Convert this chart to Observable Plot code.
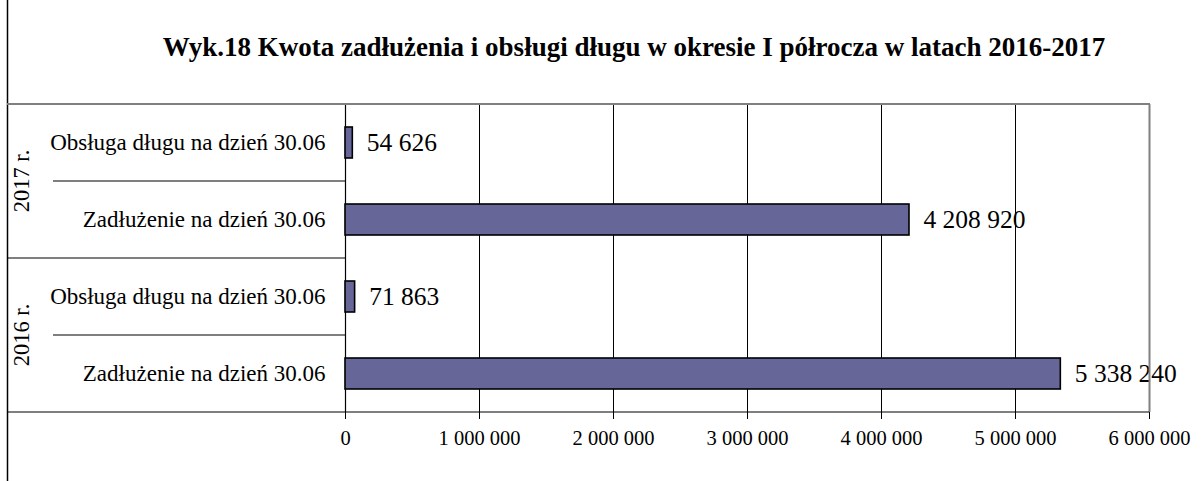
<!DOCTYPE html>
<html>
<head>
<meta charset="utf-8">
<script src="https://cdn.jsdelivr.net/npm/d3@7"></script>
<script src="https://cdn.jsdelivr.net/npm/@observablehq/plot@0.6"></script>
<style>
  html, body { margin: 0; padding: 0; background: #fff; }
  #chart svg { display: block; }
</style>
</head>
<body>
<div id="chart"></div>
<script>
const title = "Wyk.18 Kwota zadłużenia i obsługi długu w okresie I półrocza w latach 2016-2017";
const years = ["2017 r.", "2017 r.", "2016 r.", "2016 r."];
const categories = ["Obsługa długu na dzień 30.06", "Zadłużenie na dzień 30.06", "Obsługa długu na dzień 30.06", "Zadłużenie na dzień 30.06"];
const values = [54626, 4208920, 71863, 5338240];
const xTicks = [0, 1000000, 2000000, 3000000, 4000000, 5000000, 6000000];

(function () {
const fmt = d3.formatLocale({decimal: ",", thousands: " ", grouping: [3], currency: ["", ""]}).format(",d");
const data = values.map((v, i) => ({key: years[i] + "|" + categories[i], year: years[i], cat: categories[i], value: v}));
const keys = data.map(d => d.key);
const FONT = "'Liberation Serif', 'Times New Roman', serif";

const plot = Plot.plot({
  width: 1203,
  height: 481,
  marginLeft: 345,
  marginRight: 54,
  marginTop: 103,
  marginBottom: 69,
  style: {fontFamily: FONT, background: "#fff", color: "#000"},
  x: {domain: [0, 6000000], label: null},
  y: {domain: keys, paddingInner: 0.6, paddingOuter: 0.3, label: null},
  marks: [
    Plot.gridX(xTicks, {stroke: "#000", strokeOpacity: 1, strokeWidth: 1}),
    Plot.axisX(xTicks, {tickSize: 7, tickPadding: 11, fontSize: 20.5, tickFormat: fmt, stroke: "#000", strokeWidth: 1, label: null}),
    Plot.axisY({tickSize: 0, tickPadding: 20, fontSize: 23, tickFormat: k => k.split("|")[1], label: null}),
    Plot.ruleX([0], {stroke: "#000", strokeWidth: 1.2}),
    Plot.barX(data, {x: "value", y: "key", fill: "#666699", stroke: "#000", strokeWidth: 1.6}),
    Plot.text(data, {x: "value", y: "key", text: d => fmt(d.value), textAnchor: "start", dx: 14, fontSize: 25.5, fill: "#000"})
  ]
});

const svg = d3.select(plot);
const ys = plot.scale("y");
const xs = plot.scale("x");
const bw = ys.bandwidth, step = ys.step;
const yTop = ys.apply(keys[0]) - (step - bw) / 2;
const yBottom = ys.apply(keys[keys.length - 1]) + bw + (step - bw) / 2;
const x0 = xs.apply(0), x1 = xs.apply(6000000);

const g = svg.append("g");
g.append("line").attr("x1", 7.5).attr("x2", 7.5).attr("y1", 0).attr("y2", 481).attr("stroke", "#000").attr("stroke-width", 1.5);
g.append("line").attr("x1", 7).attr("x2", x1 + 1).attr("y1", yTop).attr("y2", yTop).attr("stroke", "#808080").attr("stroke-width", 2);
g.append("line").attr("x1", x1 + 0.5).attr("x2", x1 + 0.5).attr("y1", yTop).attr("y2", yBottom).attr("stroke", "#808080").attr("stroke-width", 2);
g.append("line").attr("x1", 7).attr("x2", x1).attr("y1", yBottom).attr("y2", yBottom).attr("stroke", "#000").attr("stroke-width", 1.2);
for (let i = 0; i < keys.length - 1; i++) {
  const yb = ys.apply(keys[i]) + bw + (step - bw) / 2;
  const groupEnd = years[i] !== years[i + 1];
  g.append("line").attr("x1", groupEnd ? 7 : 53).attr("x2", x0).attr("y1", yb).attr("y2", yb).attr("stroke", "#000").attr("stroke-width", 1.2);
}
const uniqYears = Array.from(new Set(years));
for (const yr of uniqYears) {
  const ks = data.filter(d => d.year === yr).map(d => d.key);
  const cy = (ys.apply(ks[0]) + ys.apply(ks[ks.length - 1]) + bw) / 2;
  g.append("text").attr("transform", `translate(24,${cy}) rotate(-90)`)
    .attr("text-anchor", "middle").attr("dominant-baseline", "middle")
    .attr("font-size", 22.5).attr("font-family", FONT).attr("fill", "#000").text(yr);
}
g.append("text").attr("x", 634).attr("y", 50).attr("text-anchor", "middle").attr("dominant-baseline", "middle")
  .attr("font-size", 27).attr("font-weight", "bold").attr("font-family", FONT).attr("fill", "#000").text(title);

document.getElementById("chart").appendChild(plot);
})();
</script>
</body>
</html>
